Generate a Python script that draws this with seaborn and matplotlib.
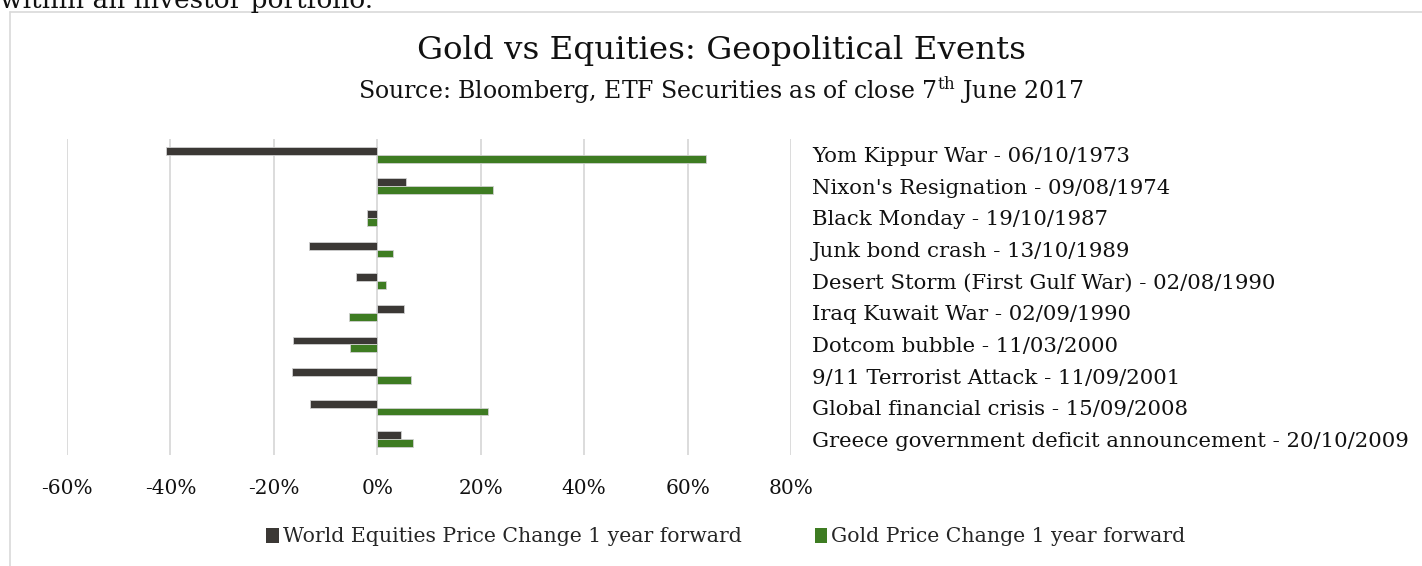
import matplotlib
matplotlib.use("Agg")
import matplotlib.pyplot as plt
from matplotlib.patches import Patch
from matplotlib.lines import Line2D
import seaborn as sns
import pandas as pd

events = [
    "Yom Kippur War - 06/10/1973",
    "Nixon's Resignation - 09/08/1974",
    "Black Monday - 19/10/1987",
    "Junk bond crash - 13/10/1989",
    "Desert Storm (First Gulf War) - 02/08/1990",
    "Iraq Kuwait War - 02/09/1990",
    "Dotcom bubble - 11/03/2000",
    "9/11 Terrorist Attack - 11/09/2001",
    "Global financial crisis - 15/09/2008",
    "Greece government deficit announcement - 20/10/2009",
]
equities = [-40.9, 5.6, -1.9, -13.3, -4.1, 5.2, -16.3, -16.5, -13.1, 4.5]
gold = [63.5, 22.4, -1.9, 3.1, 1.6, -5.4, -5.3, 6.6, 21.4, 6.9]
series_names = ["World Equities Price Change 1 year forward",
                "Gold Price Change 1 year forward"]
x_ticks = [-60, -40, -20, 0, 20, 40, 60, 80]
x_tick_labels = ["-60%", "-40%", "-20%", "0%", "20%", "40%", "60%", "80%"]

colors = {series_names[0]: "#3b3835", series_names[1]: "#3e7c22"}

df = pd.DataFrame({
    "event": events * 2,
    "value": equities + gold,
    "series": [series_names[0]] * len(events) + [series_names[1]] * len(events),
})

sns.set_theme(style="white")
plt.rcParams["font.family"] = ["DejaVu Serif"]
plt.rcParams["mathtext.fontset"] = "dejavuserif"

W, H = 1422, 566
fig = plt.figure(figsize=(W / 100, H / 100), dpi=100)
ax = fig.add_axes([67 / W, 1 - 455 / H, (791 - 67) / W, (455 - 139) / H])

sns.barplot(data=df, y="event", x="value", hue="series", orient="h",
            palette=colors, width=0.5, gap=0, ax=ax, legend=False,
            edgecolor="#d0d0d0", linewidth=0.6, saturation=1, zorder=3)

ax.set_xlim(-60, 80)
ax.set_ylim(9.5, -0.5)
ax.set_xticks(x_ticks)
ax.set_xticklabels(x_tick_labels, fontsize=14.5, color="#111111")
ax.set_xlabel("")
ax.set_ylabel("")
for xv in x_ticks:
    ax.axvline(xv, color="#d9d9d9", linewidth=1.3, zorder=1)
for s in ax.spines.values():
    s.set_visible(False)
ax.yaxis.tick_right()
ax.tick_params(axis="y", length=0, pad=15, labelsize=15.3, labelcolor="#111111")
ax.tick_params(axis="x", length=0, pad=17)
for lbl in ax.get_yticklabels():
    lbl.set_horizontalalignment("left")

# page frame and clipped page text
fig.add_artist(Line2D([10 / W, 1.0], [1 - 12 / H, 1 - 12 / H], color="#d9d9d9", linewidth=1.2))
fig.add_artist(Line2D([10 / W, 10 / W], [1 - 12 / H, 0.0], color="#d9d9d9", linewidth=1.2))
fig.text(0.0, 1 - 8 / H, "within an investor portfolio.", fontsize=19, color="#111111",
         ha="left", va="baseline")

fig.text(721 / W, 1 - 50 / H, "Gold vs Equities: Geopolitical Events", fontsize=23.4,
         ha="center", va="center", color="#111111")
fig.text(721 / W, 1 - 90 / H,
         r"Source: Bloomberg, ETF Securities as of close 7$^{\mathrm{th}}$ June 2017",
         fontsize=17, ha="center", va="center", color="#111111")

handles = [Patch(facecolor=colors[n], edgecolor="none", label=n) for n in series_names]
fig.legend(handles=handles, loc="center", bbox_to_anchor=(726 / W, 1 - 537 / H), ncol=2,
           frameon=False, fontsize=14.7, handlelength=0.6, handleheight=0.7,
           handletextpad=0.2, columnspacing=3.6)

fig.savefig("out.png", dpi=100)
